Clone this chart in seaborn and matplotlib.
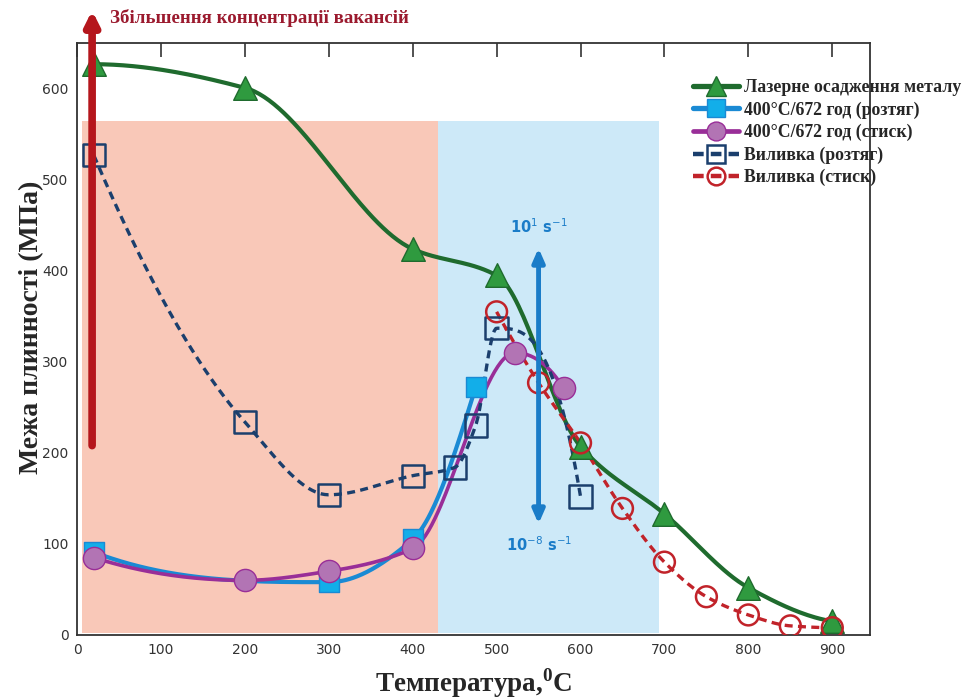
import numpy as np
import pandas as pd
import matplotlib
matplotlib.use("Agg")
import matplotlib.pyplot as plt
import seaborn as sns
from matplotlib.lines import Line2D

# ---------------- data ----------------
laser_T = [20, 200, 400, 500, 600, 700, 800, 900]
laser_S = [627, 601, 424, 395, 207, 133, 52, 15]

ht_ten_T = [20, 300, 400, 475]
ht_ten_S = [91, 58, 105, 272]

ht_comp_T = [20, 200, 300, 400, 522, 580]
ht_comp_S = [85, 60, 70, 95, 310, 271]

cast_ten_T = [20, 200, 300, 400, 450, 475, 500, 600]
cast_ten_S = [527, 234, 154, 175, 184, 230, 337, 152]

cast_comp_T = [500, 550, 600, 650, 700, 750, 800, 850, 900]
cast_comp_S = [355, 277, 211, 139, 80, 42, 22, 10, 8]

labels = ["Лазерне осадження металу",
          "400°C/672 год (розтяг)",
          "400°C/672 год (стиск)",
          "Виливка (розтяг)",
          "Виливка (стиск)"]

x_ticks = [0, 100, 200, 300, 400, 500, 600, 700, 800, 900]
y_ticks = [0, 100, 200, 300, 400, 500, 600]


def pchip(x, y, n=300):
    x = np.asarray(x, float); y = np.asarray(y, float)
    h = np.diff(x); d = np.diff(y) / h
    m = np.zeros_like(y)
    for k in range(1, len(x) - 1):
        if d[k - 1] * d[k] <= 0:
            m[k] = 0
        else:
            w1 = 2 * h[k] + h[k - 1]; w2 = h[k] + 2 * h[k - 1]
            m[k] = (w1 + w2) / (w1 / d[k - 1] + w2 / d[k])
    def edge(h0, h1, d0, d1):
        if len(x) < 3:
            return d0
        s = ((2 * h0 + h1) * d0 - h0 * d1) / (h0 + h1)
        if np.sign(s) != np.sign(d0):
            s = 0
        elif np.sign(d0) != np.sign(d1) and abs(s) > abs(3 * d0):
            s = 3 * d0
        return s
    m[0] = edge(h[0], h[1] if len(h) > 1 else h[0], d[0], d[1] if len(d) > 1 else d[0])
    m[-1] = edge(h[-1], h[-2] if len(h) > 1 else h[-1], d[-1], d[-2] if len(d) > 1 else d[-1])
    xs = np.linspace(x[0], x[-1], n)
    idx = np.clip(np.searchsorted(x, xs) - 1, 0, len(x) - 2)
    t = (xs - x[idx]) / h[idx]
    h00 = 2 * t**3 - 3 * t**2 + 1; h10 = t**3 - 2 * t**2 + t
    h01 = -2 * t**3 + 3 * t**2; h11 = t**3 - t**2
    ys = h00 * y[idx] + h10 * h[idx] * m[idx] + h01 * y[idx + 1] + h11 * h[idx] * m[idx + 1]
    return xs, ys

sns.set_style("white")
plt.rcParams['font.family'] = ['DejaVu Sans']
serif = ['Liberation Serif', 'DejaVu Serif']

fig = plt.figure(figsize=(9.65, 6.98), dpi=100)
ax = fig.add_axes([0.0798, 0.0903, 0.9016 - 0.0798, 0.938 - 0.0903])
ax.set_xlim(0, 945)
ax.set_ylim(0, 650)

# shaded regions
ax.fill_between([6, 430], 2, 565, color='#f9c8b8', lw=0, zorder=0)
ax.fill_between([430, 693], 2, 565, color='#cde9f8', lw=0, zorder=0)

series = [
    dict(T=laser_T, S=laser_S, lc='#1f6b2e', fc='#2f9a3f', ec='#1f6b2e', m='^', ls='-', lw=3.0, ms=17),
    dict(T=ht_ten_T, S=ht_ten_S, lc='#1a8ad4', fc='#12aee9', ec='#1a8ad4', m='s', ls='-', lw=3.0, ms=15),
    dict(T=ht_comp_T, S=ht_comp_S, lc='#992e98', fc='#b274b4', ec='#992e98', m='o', ls='-', lw=2.6, ms=16),
    dict(T=cast_ten_T, S=cast_ten_S, lc='#1b3f6d', fc='none', ec='#1b3f6d', m='s', ls=(0, (2.4, 1.6)), lw=2.4, ms=16),
    dict(T=cast_comp_T, S=cast_comp_S, lc='#c1232a', fc='none', ec='#c1232a', m='o', ls=(0, (2.4, 1.6)), lw=2.4, ms=15),
]

handles = []
for i, s in enumerate(series):
    xs, ys = pchip(s['T'], s['S'])
    df = pd.DataFrame({'T': xs, 'S': ys})
    sns.lineplot(data=df, x='T', y='S', ax=ax, color=s['lc'], lw=s['lw'],
                 linestyle=s['ls'], sort=False, estimator=None, zorder=3 + i * 0.1)
    pts = pd.DataFrame({'T': s['T'], 'S': s['S']})
    sns.scatterplot(data=pts, x='T', y='S', ax=ax, marker=s['m'], s=s['ms']**2,
                    color=s['fc'] if s['fc'] != 'none' else 'none',
                    edgecolor=s['ec'], linewidth=1.8 if s['fc'] == 'none' else 1.0,
                    zorder=4 + i * 0.1)
    handles.append(Line2D([0], [0], color=s['lc'], lw=s['lw'] + 0.8, linestyle=s['ls'],
                          marker=s['m'], markersize=s['ms'] * 0.85,
                          markerfacecolor=s['fc'], markeredgecolor=s['ec'],
                          markeredgewidth=1.8 if s['fc'] == 'none' else 1.0))

# red arrow (vacancy concentration)
ax.annotate('', xy=(18, 686), xytext=(18, 208), annotation_clip=False,
            arrowprops=dict(arrowstyle='-|>,head_width=0.4,head_length=0.8',
                            color='#b5161c', lw=5.5, shrinkA=0, shrinkB=0), zorder=8)
fig.text(110 / 965, 1 - 18 / 698, "Збільшення концентрації вакансій", family=serif,
         fontweight='bold', fontsize=13.6, color='#9b1a2e', va='center', ha='left')

# blue double arrow (strain rate)
ax.annotate('', xy=(550, 425), xytext=(550, 122),
            arrowprops=dict(arrowstyle='<|-|>,head_width=0.35,head_length=0.8',
                            color='#1a7cc8', lw=3.5, shrinkA=0, shrinkB=0), zorder=8)
ax.text(550, 438, r"10$^{1}$ s$^{-1}$", color='#1a7cc8', fontsize=10.5, fontweight='bold',
        ha='center', va='bottom')
ax.text(550, 110, r"10$^{-8}$ s$^{-1}$", color='#1a7cc8', fontsize=10.5, fontweight='bold',
        ha='center', va='top')

# axes styling
ax.set_xticks(x_ticks)
ax.set_yticks(y_ticks)
ax.tick_params(direction='in', length=10, width=1.2, top=True, right=False,
               labelsize=10, labelcolor='#333333', color='#333333', pad=6)
for sp in ax.spines.values():
    sp.set_color('#333333'); sp.set_linewidth(1.3)

ax.set_xlabel(r"Температура,$^{\mathregular{0}}$C", family=serif, fontweight='bold',
              fontsize=19.5, labelpad=6)
ax.set_ylabel("Межа плинності (МПа)", family=serif, fontweight='bold', fontsize=20)
ax.yaxis.set_label_coords(-0.042, 0.52)

leg = fig.legend(handles, labels, loc='upper left', bbox_to_anchor=(684 / 965, 1 - 70 / 698),
                 frameon=False, prop=dict(family=serif, weight='bold', size=12.8),
                 handlelength=2.6, handletextpad=0.3, labelspacing=0.3, borderpad=0)

fig.savefig("out.png", dpi=100)
